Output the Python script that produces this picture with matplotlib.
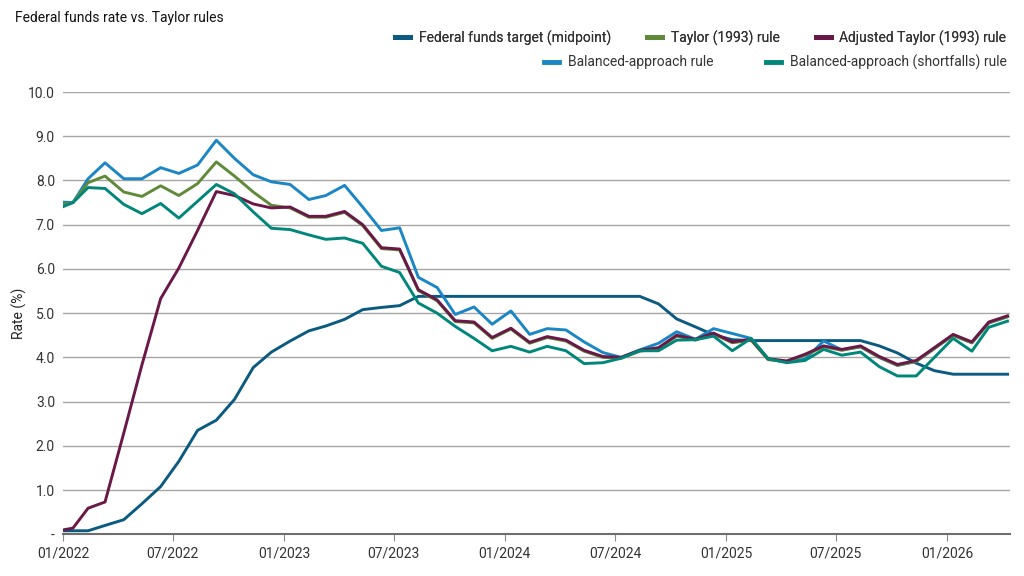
import numpy as np
import pandas as pd
import matplotlib
matplotlib.use("Agg")
import matplotlib.pyplot as plt
import matplotlib.dates as mdates
from matplotlib.lines import Line2D

plt.rcParams['font.family'] = ['Roboto', 'DejaVu Sans']

# observation dates: start point, mid-January, then one per month (Feb 2022 - Apr 2026)
dates = pd.DatetimeIndex(['2022-01-01', '2022-01-17']).append(
    pd.date_range('2022-02-01', '2026-04-01', freq='MS') + pd.Timedelta(days=10))

fed_funds = [0.08, 0.08, 0.08, 0.20, 0.33, 0.69, 1.08, 1.65, 2.35, 2.58,
             3.05, 3.77, 4.12, 4.37, 4.60, 4.71, 4.86, 5.08, 5.13, 5.17,
             5.38, 5.38, 5.38, 5.38, 5.38, 5.38, 5.38, 5.38, 5.38, 5.38,
             5.38, 5.38, 5.38, 5.21, 4.87, 4.69, 4.51, 4.40, 4.38, 4.38,
             4.38, 4.38, 4.38, 4.38, 4.38, 4.26, 4.10, 3.87, 3.70, 3.62,
             3.62, 3.62, 3.62]

adjusted = [0.10, 0.14, 0.59, 0.73, 2.29, 3.83, 5.33, 6.02, 6.87, 7.75,
            7.66, 7.47, 7.38, 7.40, 7.19, 7.19, 7.30, 7.00, 6.48, 6.45,
            5.53, 5.30, 4.83, 4.80, 4.45, 4.66, 4.34, 4.47, 4.39, 4.16,
            4.02, 4.00, 4.16, 4.22, 4.50, 4.41, 4.55, 4.35, 4.41, 3.97,
            3.92, 4.07, 4.26, 4.18, 4.26, 4.02, 3.84, 3.93, 4.22, 4.52,
            4.35, 4.80, 4.94]

taylor = [7.46, 7.50, 7.95, 8.10, 7.74, 7.64, 7.88, 7.66, 7.93, 8.42,
          8.10, 7.74, 7.44, 7.38, 7.17, 7.17, 7.28, 6.98, 6.46, 6.43,
          5.51, 5.28, 4.81, 4.78, 4.43, 4.64, 4.32, 4.45, 4.37, 4.14,
          4.00, 3.98, 4.14, 4.20, 4.48, 4.39, 4.53, 4.33, 4.39, 3.95,
          3.90, 4.05, 4.24, 4.16, 4.24, 4.00, 3.82, 3.91, 4.20, 4.50,
          4.33, 4.78, 4.92]

balanced = [7.51, 7.50, 8.04, 8.40, 8.04, 8.04, 8.29, 8.16, 8.35, 8.91,
            8.50, 8.13, 7.97, 7.91, 7.57, 7.66, 7.89, 7.40, 6.87, 6.93,
            5.81, 5.58, 4.97, 5.14, 4.75, 5.05, 4.52, 4.65, 4.62, 4.35,
            4.11, 4.00, 4.17, 4.32, 4.58, 4.41, 4.65, 4.54, 4.43, 3.97,
            3.90, 3.96, 4.37, 4.17, 4.24, 4.00, 3.82, 3.91, 4.20, 4.50,
            4.33, 4.78, 4.92]

shortfalls = [7.41, 7.50, 7.84, 7.82, 7.46, 7.25, 7.48, 7.15, 7.53, 7.91,
              7.70, 7.29, 6.92, 6.89, 6.77, 6.67, 6.70, 6.58, 6.06, 5.92,
              5.23, 5.00, 4.70, 4.43, 4.15, 4.25, 4.12, 4.25, 4.15, 3.86,
              3.88, 3.98, 4.15, 4.15, 4.39, 4.40, 4.48, 4.15, 4.43, 3.97,
              3.88, 3.93, 4.18, 4.05, 4.12, 3.79, 3.58, 3.58, 4.00, 4.43,
              4.14, 4.68, 4.82]

labels = ['Federal funds target (midpoint)', 'Taylor (1993) rule',
          'Adjusted Taylor (1993) rule', 'Balanced-approach rule',
          'Balanced-approach (shortfalls) rule']
colors = ['#0B5A80', '#5F8A3A', '#6A1848', '#1A86C4', '#00877A']

fig = plt.figure(figsize=(10.24, 5.76), dpi=100)
ax = fig.add_axes([0.0618, 0.0724, 0.9245, 0.7678])

lw = 2.1
ax.plot(dates, fed_funds, color=colors[0], lw=lw, zorder=3)
ax.plot(dates, balanced, color=colors[3], lw=lw, zorder=3)
ax.plot(dates, taylor, color=colors[1], lw=lw, zorder=3)
ax.plot(dates, adjusted, color=colors[2], lw=lw, zorder=3)
ax.plot(dates, shortfalls, color=colors[4], lw=lw, zorder=3)

ax.set_xlim(pd.Timestamp('2022-01-01'), pd.Timestamp('2026-04-15'))
ax.set_ylim(0, 10)

ticks = pd.date_range('2022-01-01', '2026-01-01', freq='6MS')
ax.set_xticks(ticks)
ax.xaxis.set_major_formatter(mdates.DateFormatter('%m/%Y'))
ax.tick_params(axis='x', length=5, width=0.8, color='#8a8a8a', labelsize=10,
               labelcolor='#333333', pad=4)

yt = np.arange(0, 11, 1.0)
ax.set_yticks(yt)
ax.set_yticklabels(['-'] + ['%.1f' % v for v in yt[1:]])
ax.tick_params(axis='y', length=0, labelsize=10, labelcolor='#333333', pad=6)

ax.grid(axis='y', color='#a6a6a6', lw=1.0)
ax.set_axisbelow(True)
for s in ['top', 'right', 'left']:
    ax.spines[s].set_visible(False)
ax.spines['bottom'].set_color('#6e6e6e')
ax.spines['bottom'].set_linewidth(1.5)

ax.set_ylabel('Rate (%)', fontsize=10, color='#222222', labelpad=1)

fig.text(0.0146, 0.968, 'Federal funds rate vs. Taylor rules', fontsize=10,
         color='#111111', va='center', ha='left')

handles = [Line2D([0], [0], color=c, lw=3.5) for c in colors]
leg1 = fig.legend(handles[:3], labels[:3], ncol=3, loc='center right',
                  bbox_to_anchor=(0.995, 0.934), frameon=False, fontsize=10,
                  handlelength=1.1, handletextpad=0.6, columnspacing=2.6,
                  labelcolor='#333333')
fig.add_artist(leg1)
fig.legend(handles[3:], labels[3:], ncol=2, loc='center right',
           bbox_to_anchor=(0.995, 0.892), frameon=False, fontsize=10,
           handlelength=1.1, handletextpad=0.6, columnspacing=3.8,
           labelcolor='#333333')

fig.savefig('out.png', dpi=100)
